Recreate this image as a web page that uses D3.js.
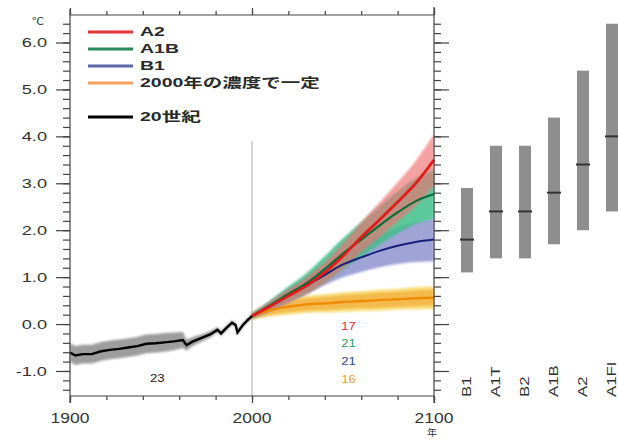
<!DOCTYPE html>
<html>
<head>
<meta charset="utf-8">
<script src="https://cdn.jsdelivr.net/npm/d3@7"></script>
<style>
body { margin: 0; background: #fff; }
text { font-family: "Liberation Sans", "Noto Sans CJK JP", sans-serif; fill: #222; }
</style>
</head>
<body>
<svg id="chart" width="618" height="441"></svg>
<script>
// 20th century multi-model mean (relative to 1980-1999)
var histYears  = [1900,1903,1907,1912,1917,1922,1927,1932,1937,1942,1947,1952,1957,1962,1964,1967,1972,1977,1981,1983,1986,1989,1991,1992,1995,1998,2000];
var histMean   = [-0.61,-0.67,-0.64,-0.64,-0.58,-0.55,-0.53,-0.50,-0.47,-0.42,-0.41,-0.39,-0.37,-0.34,-0.45,-0.38,-0.30,-0.22,-0.12,-0.20,-0.08,0.03,-0.02,-0.18,-0.02,0.10,0.17];
var histSpread = [0.20,0.20,0.20,0.20,0.20,0.20,0.20,0.20,0.20,0.20,0.20,0.20,0.19,0.17,0.12,0.10,0.08,0.07,0.06,0.06,0.05,0.05,0.05,0.05,0.05,0.05,0.05];

// scenario projections
var projYears   = [2000,2010,2020,2030,2040,2050,2060,2070,2080,2090,2100];
var a2Mean      = [0.17,0.38,0.60,0.82,1.10,1.45,1.85,2.22,2.60,3.00,3.50];
var a2Spread    = [0.05,0.10,0.14,0.18,0.22,0.27,0.32,0.37,0.42,0.48,0.55];
var a1bMean     = [0.17,0.40,0.64,0.87,1.17,1.50,1.80,2.10,2.38,2.62,2.77];
var a1bSpread   = [0.05,0.10,0.16,0.22,0.28,0.33,0.37,0.41,0.45,0.49,0.52];
var b1Mean      = [0.17,0.38,0.60,0.82,1.05,1.27,1.42,1.56,1.67,1.75,1.80];
var b1Spread    = [0.05,0.10,0.14,0.18,0.22,0.27,0.31,0.35,0.39,0.43,0.46];
var constMean   = [0.17,0.30,0.37,0.42,0.44,0.47,0.49,0.51,0.53,0.55,0.56];
var constSpread = [0.05,0.10,0.12,0.13,0.14,0.15,0.15,0.16,0.16,0.17,0.17];

// number of models
var histModels = "23";
var projModels = ["17","21","21","16"];

// likely ranges at 2090-2099
var barScenarios = ["B1","A1T","B2","A1B","A2","A1FI"];
var barLow  = [1.1,1.4,1.4,1.7,2.0,2.4];
var barBest = [1.8,2.4,2.4,2.8,3.4,4.0];
var barHigh = [2.9,3.8,3.8,4.4,5.4,6.4];

var legendLabels = ["A2","A1B","B1","2000年の濃度で一定","20世紀"];
var yTickValues = [-1,0,1,2,3,4,5,6];
var xTickValues = [1900,2000,2100];

var svg = d3.select("#chart");

var x = d3.scaleLinear().domain([1900, 2100]).range([70, 434]);
var y = d3.scaleLinear().domain([-1.533, 6.586]).range([396, 15]);
var xb = d3.scalePoint().domain(barScenarios).range([467, 612]);

// stretched text, like the original lettering
function label(g, tx, ty, str, size, sx, anchor, color, rot) {
    return g.append("text")
        .attr("transform", "translate(" + tx + "," + ty + ") rotate(" + (rot || 0) + ") scale(" + sx + ",1)")
        .attr("font-size", size)
        .attr("text-anchor", anchor)
        .attr("dominant-baseline", "central")
        .style("fill", color || "#222")
        .text(str);
}

var defs = svg.append("defs");
defs.append("filter").attr("id", "soft")
    .append("feGaussianBlur").attr("stdDeviation", 0.9);

var plot = svg.append("g");

function bandArea(mean, spread) {
    return d3.area()
        .x(function(d, i) { return x(projYears[i]); })
        .y0(function(d, i) { return y(mean[i] - spread[i]); })
        .y1(function(d, i) { return y(mean[i] + spread[i]); })
        .curve(d3.curveCatmullRom);
}
function meanLine(mean) {
    return d3.line()
        .x(function(d, i) { return x(projYears[i]); })
        .y(function(d, i) { return y(mean[i]); })
        .curve(d3.curveCatmullRom);
}

// vertical line at 2000
plot.append("line")
    .attr("x1", x(2000)).attr("x2", x(2000))
    .attr("y1", y(3.9)).attr("y2", y.range()[0])
    .attr("stroke", "#aaa").attr("stroke-width", 1);

// 20th century band
plot.append("path")
    .datum(histYears)
    .attr("d", d3.area()
        .x(function(d) { return x(d); })
        .y0(function(d, i) { return y(histMean[i] - histSpread[i]); })
        .y1(function(d, i) { return y(histMean[i] + histSpread[i]); }))
    .attr("fill", "#8c8c8c").attr("opacity", 0.85)
    .attr("filter", "url(#soft)");

// scenario bands
var bands = [
    { mean: constMean, spread: constSpread.map(function(s) { return s * 1.4; }), fill: "#f8dc70", op: 0.9 },
    { mean: constMean, spread: constSpread, fill: "#f4b040", op: 0.8 },
    { mean: b1Mean, spread: b1Spread, fill: "#8f93cf", op: 0.85 },
    { mean: a1bMean, spread: a1bSpread, fill: "#3fbf8a", op: 0.85 },
    { mean: a2Mean, spread: a2Spread, fill: "#f07070", op: 0.65 }
];
bands.forEach(function(b) {
    plot.append("path")
        .datum(projYears)
        .attr("d", bandArea(b.mean, b.spread))
        .attr("fill", b.fill).attr("opacity", b.op)
        .attr("filter", "url(#soft)");
});

// scenario mean lines
var lines = [
    { mean: constMean, color: "#f08a00", w: 2.4 },
    { mean: b1Mean, color: "#16207a", w: 2 },
    { mean: a1bMean, color: "#0b6b35", w: 2.2 },
    { mean: a2Mean, color: "#e01b1b", w: 2.8 }
];
lines.forEach(function(l) {
    plot.append("path")
        .datum(projYears)
        .attr("d", meanLine(l.mean))
        .attr("fill", "none")
        .attr("stroke", l.color).attr("stroke-width", l.w);
});

// 20th century line
plot.append("path")
    .datum(histYears)
    .attr("d", d3.line()
        .x(function(d) { return x(d); })
        .y(function(d, i) { return y(histMean[i]); }))
    .attr("fill", "none").attr("stroke", "#000").attr("stroke-width", 2.4);

// frame
var frame = svg.append("g").attr("stroke", "#444").attr("stroke-width", 1.2);
frame.append("line").attr("x1", x(1900)).attr("x2", x(2100)).attr("y1", y.range()[1]).attr("y2", y.range()[1]);
frame.append("line").attr("x1", x(1900)).attr("x2", x(2100)).attr("y1", y.range()[0]).attr("y2", y.range()[0]);

// y axes, left and right
var leftAxis = d3.axisLeft(y).tickValues(yTickValues).tickSize(14).tickFormat("");
var leftMinor = d3.axisLeft(y).ticks(40).tickSize(7).tickFormat("");
var rightAxis = d3.axisRight(y).tickValues(yTickValues).tickSize(15).tickFormat("");
var rightMinor = d3.axisRight(y).ticks(40).tickSize(7).tickFormat("");
[[leftMinor, x(1900)], [leftAxis, x(1900)], [rightMinor, x(2100)], [rightAxis, x(2100)]].forEach(function(a) {
    var g = svg.append("g").attr("transform", "translate(" + a[1] + ",0)").call(a[0]);
    g.selectAll("line, path").attr("stroke", "#444").attr("stroke-width", 1.2);
    g.select(".domain").remove();
});
svg.append("line").attr("x1", x(1900)).attr("x2", x(1900)).attr("y1", 9).attr("y2", 403).attr("stroke", "#444").attr("stroke-width", 1.2);
svg.append("line").attr("x1", x(2100)).attr("x2", x(2100)).attr("y1", 7).attr("y2", 403).attr("stroke", "#444").attr("stroke-width", 1.2);

// x axes, top and bottom
var xMinorTicks = d3.range(1900, 2101, 20);
[[d3.axisBottom(x), y.range()[0]], [d3.axisTop(x), y.range()[1]]].forEach(function(a) {
    var gm = svg.append("g").attr("transform", "translate(0," + a[1] + ")")
        .call(a[0].tickValues(xMinorTicks).tickSize(4).tickFormat(""));
    gm.selectAll("line").attr("stroke", "#444").attr("stroke-width", 1.2);
    gm.select(".domain").remove();
    var gM = svg.append("g").attr("transform", "translate(0," + a[1] + ")")
        .call(a[0].tickValues(xTickValues).tickSize(7).tickFormat(""));
    gM.selectAll("line").attr("stroke", "#444").attr("stroke-width", 1.2);
    gM.select(".domain").remove();
});

// tick labels
var txt = svg.append("g");
yTickValues.forEach(function(v) {
    label(txt, 47, y(v), d3.format(".1f")(v).replace("−", "-"), 13, 1.4, "end", "#333");
});
xTickValues.forEach(function(v) {
    label(txt, x(v), 418, v, 14, 1.25, "middle", "#333");
});
label(txt, 38, 21, "℃", 10, 1.2, "middle", "#333");
label(txt, x(2100) - 2, 433, "年", 9, 1.1, "middle", "#333");

// model counts
label(txt, x(1948), y(-1.15), histModels, 11, 1.2, "middle", "#222");
var countColors = ["#e0303a", "#30a050", "#3a45a0", "#f0a030"];
projModels.forEach(function(n, i) {
    label(txt, x(2053), y(-0.04) + i * 17.7, n, 11, 1.2, "middle", countColors[i]);
});

// legend
var legendColors = ["#e8353a", "#2a8a5a", "#5866aa", "#f4a060", "#000"];
var legendRows = [0, 1, 2, 3, 5];
var legend = svg.append("g");
legendLabels.forEach(function(s, i) {
    var ly = 32 + legendRows[i] * 17;
    legend.append("line")
        .attr("x1", 88).attr("x2", 133).attr("y1", ly).attr("y2", ly)
        .attr("stroke", legendColors[i]).attr("stroke-width", 3);
    label(legend, 140, ly, s, 13, 1.5, "start", "#2a2a2a").attr("font-weight", "bold");
});

// likely range bars
var bars = svg.append("g");
bars.selectAll("rect")
    .data(barScenarios)
    .enter().append("rect")
    .attr("x", function(d) { return xb(d) - 6; })
    .attr("width", 12)
    .attr("y", function(d, i) { return y(barHigh[i]); })
    .attr("height", function(d, i) { return y(barLow[i]) - y(barHigh[i]); })
    .attr("fill", "#8e8e8e");
bars.selectAll("line.best")
    .data(barScenarios)
    .enter().append("line")
    .attr("class", "best")
    .attr("x1", function(d) { return xb(d) - 7; })
    .attr("x2", function(d) { return xb(d) + 7; })
    .attr("y1", function(d, i) { return y(barBest[i]); })
    .attr("y2", function(d, i) { return y(barBest[i]); })
    .attr("stroke", "#333").attr("stroke-width", 2);
barScenarios.forEach(function(s) {
    label(bars, xb(s), 397, s, 12, 1.4, "start", "#333", -90);
});
</script>
</body>
</html>
